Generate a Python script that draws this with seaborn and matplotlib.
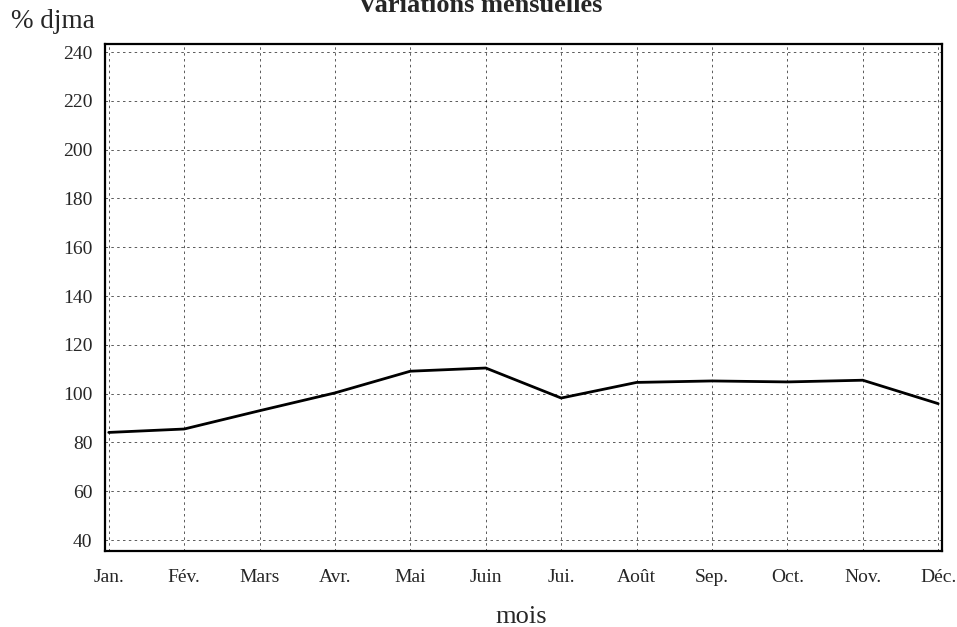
import matplotlib
matplotlib.use("Agg")
import matplotlib.pyplot as plt
import seaborn as sns
import pandas as pd

# Données
mois = ["Jan.", "Fév.", "Mars", "Avr.", "Mai", "Juin", "Jui.", "Août", "Sep.", "Oct.", "Nov.", "Déc."]
djma = [84.1, 85.5, 93.0, 100.3, 109.2, 110.5, 98.2, 104.6, 105.2, 104.8, 105.5, 95.9]
yticks = [40, 60, 80, 100, 120, 140, 160, 180, 200, 220, 240]

df = pd.DataFrame({"mois": mois, "djma": djma})

sns.set_style("white")
plt.rcParams['font.family'] = ['Liberation Serif', 'DejaVu Serif']

fig = plt.figure(figsize=(9.57, 6.27), dpi=100)
ax = fig.add_axes([0.1097, 0.1212, 0.8746, 0.8086])

sns.lineplot(data=df, x="mois", y="djma", sort=False, color="black", linewidth=2, ax=ax)

ax.set_xlim(-0.05, 11.05)
ax.set_ylim(35.5, 243.3)
ax.set_yticks(yticks)
ax.grid(True, color="black", linestyle=(0, (3, 4)), linewidth=0.6, alpha=0.75)

for s in ax.spines.values():
    s.set_color("black")
    s.set_linewidth(1.6)

ax.tick_params(axis="x", direction="out", length=4, width=0.8, labelsize=14, pad=9)
ax.tick_params(axis="y", length=0, labelsize=14, pad=9)
ax.set_xlabel("")
ax.set_ylabel("")

# titres et labels d'axes
fig.text(0.545, 0.007, "mois", fontsize=19, ha="center", va="baseline")
fig.text(0.012, 0.966, "% djma", fontsize=19.5, va="center", ha="left")
fig.text(0.502, 0.981, "Variations mensuelles", fontsize=19, fontweight="bold",
         ha="center", va="baseline")

fig.savefig("out.png", dpi=100)
